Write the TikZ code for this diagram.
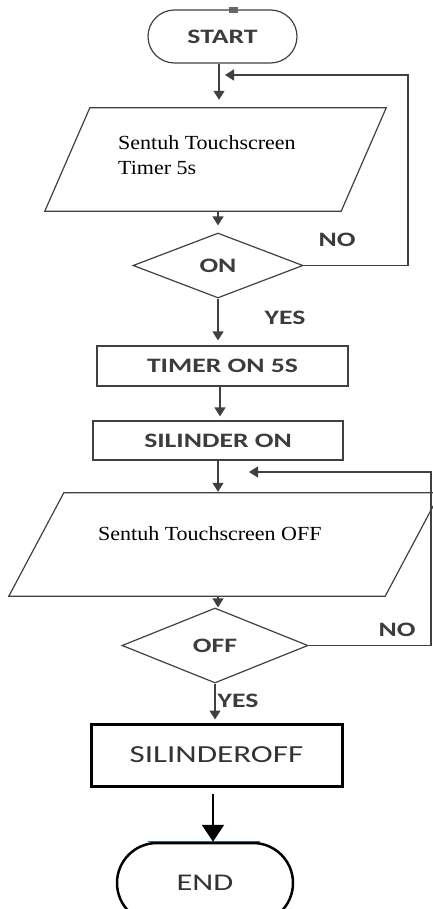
\documentclass[tikz,border=0pt]{standalone}
\usepackage{fontspec}
\usepackage{tikz}
\usetikzlibrary{shapes.geometric}
\usetikzlibrary{shapes.misc}
\usetikzlibrary{arrows.meta}
\newfontfamily\lblfont[FakeStretch=1.35]{Carlito}
\newfontfamily\txtfont[FakeStretch=1.1]{Liberation Serif}
\definecolor{linegray}{HTML}{404040}
\definecolor{lblgray}{HTML}{3C3C3C}
\definecolor{marker}{HTML}{3A5E9A}
\tikzstyle{flowbox}=[draw=linegray, line width=1.2pt, inner sep=0pt, text=lblgray, font=\lblfont\bfseries\fontsize{20.5}{24}\selectfont]
\tikzstyle{term}=[flowbox, rounded rectangle]
\tikzstyle{proc}=[flowbox, rectangle]
\tikzstyle{dec}=[flowbox, diamond]
\tikzstyle{io}=[rectangle, inner sep=0pt]
\tikzstyle{ioline}=[draw=linegray, line width=1.2pt]
\tikzstyle{iotext}=[inner sep=0pt, font=\txtfont\fontsize{20}{25}\selectfont, align=left]
\tikzstyle{lbl}=[inner sep=0pt, text=lblgray, font=\lblfont\bfseries\fontsize{20.5}{24}\selectfont]
\tikzstyle{flow}=[draw=linegray, line width=1.3pt, -{Triangle[width=11pt,length=9pt]}]

\begin{document}
\begin{tikzpicture}[x=1pt, y=-1pt]
        \useasboundingbox (0,0) rectangle (433,909);
        \clip (0,0) rectangle (433,909);
        \node[term, minimum width=149, minimum height=53] (start) at (222.5, 36.5) {START};
        \fill[linegray!80] (229,7) rectangle (238,13);
        \node[io, minimum width=296, minimum height=103] (in1) at (215.5, 159.5) {};
        \draw[ioline] ([xshift=22.5pt]in1.north west) -- ([xshift=22.5pt]in1.north east) -- ([xshift=-22.5pt]in1.south east) -- ([xshift=-22.5pt]in1.south west) -- cycle;
        \node[iotext, anchor=north west] (in1txt) at (118, 135) {Sentuh Touchscreen\\Timer 5s};
        \node[dec, minimum width=170, minimum height=65] (on) at (218, 265.5) {ON};
        \node[proc, minimum width=251, minimum height=40] (tmr) at (222.5, 366) {TIMER ON 5S};
        \node[proc, minimum width=250, minimum height=39] (cylon) at (218, 440.5) {SILINDER ON};
        \node[io, minimum width=376, minimum height=103] (in2) at (224.5, 544.5) {};
        \draw[ioline] ([xshift=27.5pt]in2.north west) -- ([xshift=27.5pt]in2.north east) -- ([xshift=-27.5pt]in2.south east) -- ([xshift=-27.5pt]in2.south west) -- cycle;
        \node[iotext, anchor=base west] (in2txt) at (98, 540) {Sentuh Touchscreen OFF};
        \node[dec, minimum width=186, minimum height=75] (off) at (215, 645.5) {OFF};
        \node[proc, draw=black, line width=3pt, text=black!80, font=\lblfont\fontsize{24.5}{28}\selectfont, minimum width=251, minimum height=62] (cyloff) at (216.5, 755) {SILINDEROFF};
        \node[term, draw=black, line width=2.5pt, text=black!80, font=\lblfont\fontsize{24}{28}\selectfont, minimum width=176, minimum height=80] (end) at (205, 883) {END};
        \draw[marker, line width=1pt] ([xshift=-57pt]end.north) -- ([xshift=55pt]end.north);
        % main flow
        \draw[flow, shorten >=8pt] ([xshift=-3.5pt]start.south) -- ([xshift=-3.5pt]start.south |- in1.north);
        \draw[flow, shorten >=7pt] ([xshift=2.5pt]in1.south) -- ([xshift=2.5pt]in1.south |- on.north);
        \draw[flow, shorten >=5pt] (on.south) -- (on.south |- tmr.north);
        \draw[flow, shorten >=4pt] ([xshift=-2.5pt]tmr.south) -- ([xshift=-2.5pt]tmr.south |- cylon.north);
        \draw[flow, shorten >=1pt] (cylon.south) -- (cylon.south |- in2.north);
        \draw[flow] ([xshift=-6.5pt]in2.south) -- ([xshift=-6.5pt]in2.south |- off.north);
        \draw[flow, shorten >=3pt] (off.south) -- (off.south |- cyloff.north);
        \draw[black, line width=2pt, -{Triangle[width=22pt,length=17pt]}] ([xshift=-3.5pt, yshift=-6pt]cyloff.south) -- ([xshift=-3.5pt]cyloff.south |- end.north);
        % loops back
        \coordinate (back1) at (408, 75);
        \coordinate (join1) at (225, 75);
        \draw[flow] (on.east) -| (back1) -- (join1);
        \coordinate (back2) at (431, 472);
        \coordinate (join2) at (249, 472);
        \draw[flow] (off.east) -| (back2) -- (join2);
        % branch labels
        \node[lbl] (no1) at (337, 240) {NO};
        \node[lbl] (yes1) at (285, 318) {YES};
        \node[lbl] (no2) at (397, 630) {NO};
        \node[lbl] (yes2) at (238, 701) {YES};
    \end{tikzpicture}
\end{document}
